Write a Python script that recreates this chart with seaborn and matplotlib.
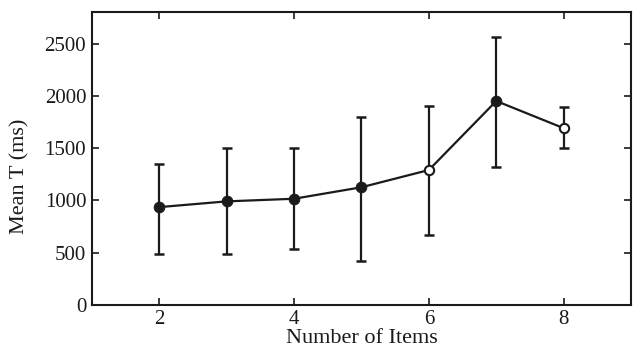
import matplotlib
matplotlib.use("Agg")
import matplotlib.pyplot as plt
import seaborn as sns
import numpy as np
import pandas as pd

items = [2, 3, 4, 5, 6, 7, 8]
mean_t = [935, 990, 1015, 1125, 1290, 1950, 1690]
lower = [490, 490, 530, 420, 670, 1320, 1500]
upper = [1350, 1505, 1505, 1800, 1900, 2560, 1890]
filled = [True, True, True, True, False, True, False]
xticks = [2, 4, 6, 8]
yticks = [0, 500, 1000, 1500, 2000, 2500]

df = pd.DataFrame({"items": items, "mean": mean_t, "lo": lower, "hi": upper, "filled": filled})

sns.set_style("ticks")
plt.rcParams['font.family'] = ['Liberation Serif', 'DejaVu Serif']

fig = plt.figure(figsize=(6.33, 3.57), dpi=100)
ax = fig.add_axes([0.145, 0.146, 0.852, 0.82])

yerr = np.array([df["mean"] - df["lo"], df["hi"] - df["mean"]])
ax.errorbar(df["items"], df["mean"], yerr=yerr, fmt="none", ecolor="#1a1a1a",
            elinewidth=1.6, capsize=3.5, capthick=1.8, zorder=2)
sns.lineplot(data=df, x="items", y="mean", color="#1a1a1a", linewidth=1.6, ax=ax, zorder=3)
sns.scatterplot(data=df[df["filled"]], x="items", y="mean", color="#1a1a1a", s=60,
                edgecolor="#1a1a1a", ax=ax, zorder=4)
sns.scatterplot(data=df[~df["filled"]], x="items", y="mean", color="white", s=45,
                edgecolor="#1a1a1a", linewidth=1.5, ax=ax, zorder=4)

ax.set_xlim(1, 9)
ax.set_ylim(0, 2800)
ax.set_xticks(xticks)
ax.set_yticks(yticks)
ax.tick_params(direction="in", top=True, right=True, length=5, width=1.2,
               labelsize=15, colors="#1a1a1a", pad=4)
for s in ax.spines.values():
    s.set_linewidth(1.5)
    s.set_color("#1a1a1a")
ax.set_xlabel("Number of Items", fontsize=16, labelpad=0, color="#1a1a1a")
ax.set_ylabel("Mean T (ms)", fontsize=16, color="#1a1a1a")
ax.yaxis.set_label_coords(-0.115, 0.44)

fig.savefig("out.png", dpi=100)
